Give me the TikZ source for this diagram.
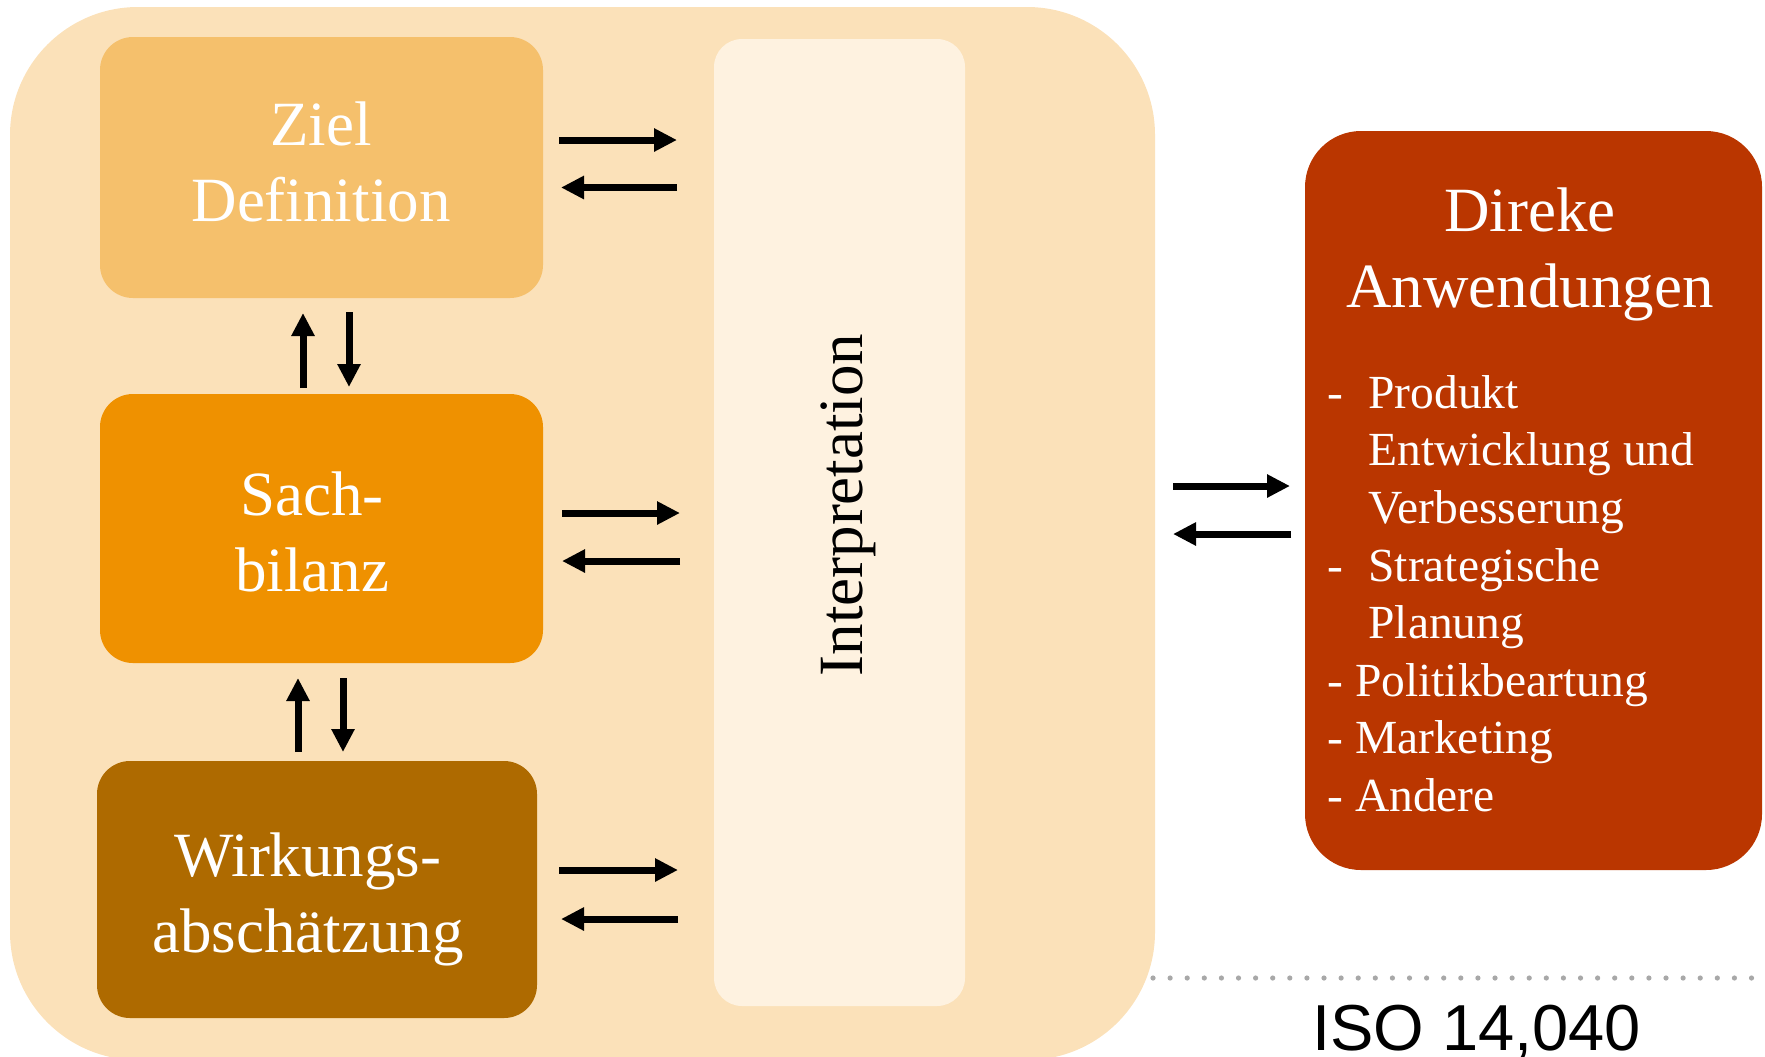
\documentclass[tikz,border=0pt]{standalone}
\usepackage{fontspec}
\setmainfont{Liberation Serif}
\newfontfamily\isosans{Liberation Sans}
\usetikzlibrary{arrows.meta,calc}
\definecolor{outerbg}{HTML}{FBE1B9}
\definecolor{zielc}{HTML}{F5C06C}
\definecolor{sachc}{HTML}{EF9100}
\definecolor{wirkc}{HTML}{AE6A00}
\definecolor{interc}{HTML}{FEF2E0}
\definecolor{direc}{HTML}{BA3600}
\definecolor{dotc}{HTML}{A8A8A8}
\tikzset{
  box/.style={draw=none, inner sep=0pt, outer sep=0pt, rectangle},
  bigtext/.style={text=white, inner sep=0pt, align=center, anchor=north,
    font=\fontsize{31.5pt}{38pt}\selectfont},
  listtext/.style={text=white, inner sep=0pt, align=left, anchor=north west,
    font=\fontsize{23.75pt}{28.8pt}\selectfont},
  arr/.style={line width=3.5pt, -{Triangle[length=11.5pt,width=11pt]}},
}
\begin{document}
\begin{tikzpicture}[x=0.5pt, y=-0.5pt]
\useasboundingbox (0,0) rectangle (1765,1056);
\clip (0,0) rectangle (1765,1056);
% boxes
\node[box, fill=outerbg, minimum width=572.5pt, minimum height=526.5pt, rounded corners=64pt] (outer) at (582.5,533.5) {};
\node[box, fill=zielc, minimum width=221.5pt, minimum height=130.5pt, rounded corners=16.5pt] (zb) at (321.5,167.5) {};
\node[box, fill=sachc, minimum width=221.5pt, minimum height=134.5pt, rounded corners=16.5pt] (sb) at (321.5,528.5) {};
\node[box, fill=wirkc, minimum width=220pt, minimum height=128.5pt, rounded corners=16.5pt] (wb) at (317,889.5) {};
\node[box, fill=interc, minimum width=125.5pt, minimum height=483.5pt, rounded corners=14pt] (ib) at (839.5,522.5) {};
\node[box, fill=direc, minimum width=228.5pt, minimum height=369.5pt, rounded corners=28pt] (db) at (1533.5,500.5) {};
% labels
\node[bigtext] (zielL) at (321,101) {Ziel\\Definition};
\node[bigtext] (sachL) at (312,471) {Sach-\\bilanz};
\node[bigtext] (wirkL) at (308,832) {Wirkungs-\\abschätzung};
\node[bigtext] (direL) at (1530,187) {Direke\\Anwendungen};
\node[rotate=90, inner sep=0pt, font=\fontsize{31.5pt}{38pt}\selectfont] (interL) at (848.5,505) {Interpretation};
\node[listtext] (dlist) at (1327,375) {\makebox[20.5pt][l]{-}Produkt\\
\hspace*{20.5pt}Entwicklung und\\
\hspace*{20.5pt}Verbesserung\\
\makebox[20.5pt][l]{-}Strategische\\
\hspace*{20.5pt}Planung\\
- Politikbeartung\\
- Marketing\\
- Andere};
\node[anchor=base, inner sep=0pt, font=\isosans\fontsize{32.5pt}{38pt}\selectfont] (iso) at (1476.5,1050) {ISO 14,040};
% dotted separator
\coordinate (dotA) at (1153,978);
\coordinate (dotB) at (1752,978);
\draw[dotc, line width=2.6pt, line cap=round, dash pattern=on 0pt off 8.55pt] (dotA) -- (dotB);
% vertical arrows
\draw[arr] ($(sb.north)+(-18.5,-6)$) -- ($(zb.south)+(-18.5,15)$);
\draw[arr] ($(zb.south)+(27.5,14)$) -- ($(sb.north)+(27.5,-7)$);
\draw[arr] ($(wb.north)+(-19,-9)$) -- ($(sb.south)+(-23.5,15)$);
\draw[arr] ($(sb.south)+(21.5,15)$) -- ($(wb.north)+(26,-9)$);
% horizontal arrows to interpretation
\draw[arr] ($(zb.east)+(16,-27.5)$) -- ($(ib.west |- zb.east)+(-37,-27.5)$);
\draw[arr] ($(ib.west |- zb.east)+(-37,20)$) -- ($(zb.east)+(18,20)$);
\draw[arr] ($(sb.east)+(19,-15.5)$) -- ($(ib.west |- sb.east)+(-34,-15.5)$);
\draw[arr] ($(ib.west |- sb.east)+(-34,32.5)$) -- ($(sb.east)+(19,32.5)$);
\draw[arr] ($(wb.east)+(22,-19.5)$) -- ($(ib.west |- wb.east)+(-36,-19.5)$);
\draw[arr] ($(ib.west |- wb.east)+(-36,29.5)$) -- ($(wb.east)+(24,29.5)$);
% arrows to applications
\draw[arr] ($(outer.east |- db.west)+(18,-14.5)$) -- ($(db.west)+(-15,-14.5)$);
\draw[arr] ($(db.west)+(-14,33.5)$) -- ($(outer.east |- db.west)+(18,33.5)$);
\end{tikzpicture}
\end{document}
